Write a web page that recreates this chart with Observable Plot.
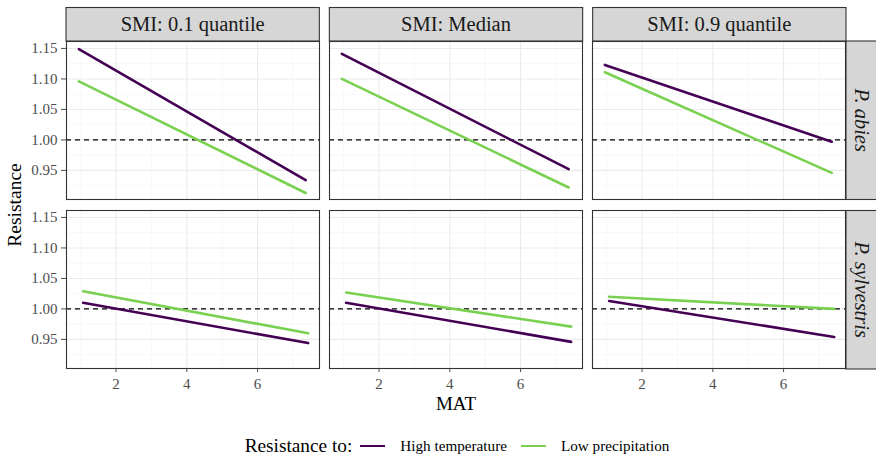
<!DOCTYPE html>
<html>
<head>
<meta charset="utf-8">
<script src="https://cdn.jsdelivr.net/npm/d3@7"></script>
<script src="https://cdn.jsdelivr.net/npm/@observablehq/plot@0.6"></script>
<style>
  body { margin: 0; background: #fff; font-family: 'Liberation Serif', serif; }
  #chart svg { display: block; }
  #chart svg text { font-family: 'Liberation Serif', serif !important; }
  #legend { width: 876px; height: 52px; box-sizing: border-box; padding-left: 38px; display: flex; justify-content: center; align-items: center; color: #000; font-family: 'Liberation Serif', serif; }
  #legend .title { font-size: 19.3px; margin-right: 8px; }
  #legend .key { width: 25px; height: 2.8px; margin-right: 15px; }
  #legend .lab { font-size: 15.2px; margin-right: 14px; }
  #legend .lab:last-child { margin-right: 0; }
</style>
</head>
<body>
<div id="chart"></div>
<div id="legend"></div>
<script>
// ---- data ----
const smiLevels = ["SMI: 0.1 quantile", "SMI: Median", "SMI: 0.9 quantile"];
const speciesNames = ["P. abies", "P. sylvestris"];
const stressTypes = ["High temperature", "Low precipitation"];
const stressColors = ["#440154", "#7AD151"];

// MAT range of the predictions (start, end) for each species
const matAbies = [0.95, 7.36];
const matSylvestris = [1.07, 7.43];

// Resistance at MAT start / end, one pair per SMI level
const abiesHighTemp = [[1.149, 0.934], [1.141, 0.952], [1.123, 0.997]];
const abiesLowPrec = [[1.096, 0.913], [1.100, 0.922], [1.111, 0.946]];
const sylvHighTemp = [[1.010, 0.944], [1.010, 0.946], [1.013, 0.954]];
const sylvLowPrec = [[1.029, 0.960], [1.027, 0.971], [1.020, 1.000]];

// axis ticks / grid
const xTicks = [2, 4, 6];
const xMinor = [1, 3, 5, 7];
const yTicks = [0.95, 1.00, 1.05, 1.10, 1.15];
const yMinor = [0.925, 0.975, 1.025, 1.075, 1.125];
const refLine = [1];

const FONT = "Liberation Serif";

// ---- build table ----
const rows = [];
function addSeries(sp, mat, type, vals) {
  vals.forEach((pair, i) => {
    pair.forEach((v, j) => rows.push({species: sp, smi: smiLevels[i], type, mat: mat[j], value: v}));
  });
}
addSeries(speciesNames[0], matAbies, stressTypes[0], abiesHighTemp);
addSeries(speciesNames[0], matAbies, stressTypes[1], abiesLowPrec);
addSeries(speciesNames[1], matSylvestris, stressTypes[0], sylvHighTemp);
addSeries(speciesNames[1], matSylvestris, stressTypes[1], sylvLowPrec);

const W = 876, H = 420;
const plot = Plot.plot({
  width: W, height: H,
  marginTop: 41, marginRight: 30, marginBottom: 51, marginLeft: 66,
  facet: {marginTop: 0, marginRight: 0, marginBottom: 0, marginLeft: 0},
  fx: {domain: smiLevels, axis: null, label: null, paddingInner: 0.038, paddingOuter: 0},
  fy: {domain: speciesNames, axis: null, label: null, paddingInner: 0.065, paddingOuter: 0},
  x: {domain: [0.6, 7.75], ticks: xTicks, tickSize: 4, tickPadding: 6, label: null},
  y: {domain: [0.9023, 1.1614], ticks: yTicks, tickSize: 5, tickPadding: 4, tickFormat: d3.format(".2f"), label: null},
  color: {domain: stressTypes, range: stressColors},
  style: {fontFamily: "Liberation Serif", fontSize: "15px", color: "#4D4D4D", background: "white", overflow: "visible"},
  marks: [
    Plot.ruleY(yMinor, {stroke: "#F3F3F3", strokeWidth: 0.6}),
    Plot.ruleX(xMinor, {stroke: "#F3F3F3", strokeWidth: 0.6}),
    Plot.ruleY(yTicks, {stroke: "#EBEBEB", strokeWidth: 1.1}),
    Plot.ruleX(xTicks, {stroke: "#EBEBEB", strokeWidth: 1.1}),
    Plot.ruleY(refLine, {stroke: "#000", strokeWidth: 1.1, strokeDasharray: "5,4"}),
    Plot.line(rows, {x: "mat", y: "value", stroke: "type", fx: "smi", fy: "species", strokeWidth: 2.6}),
    Plot.frame({stroke: "#333333", strokeWidth: 1.1})
  ]
});
document.getElementById("chart").appendChild(plot);
d3.select(plot).selectAll("text").attr("font-family", FONT).attr("font-size", 15);

// ---- strips and axis titles ----
const fxS = plot.scale("fx"), fyS = plot.scale("fy");
const bx = d3.scaleBand().domain(fxS.domain).range(fxS.range)
  .paddingInner(fxS.paddingInner ?? 0.038).paddingOuter(fxS.paddingOuter ?? 0).align(fxS.align ?? 0.5);
const by = d3.scaleBand().domain(fyS.domain).range(fyS.range)
  .paddingInner(fyS.paddingInner ?? 0.065).paddingOuter(fyS.paddingOuter ?? 0).align(fyS.align ?? 0.5);

const svg = d3.select(plot);
const g = svg.append("g").attr("font-family", FONT);
const top0 = 7.5, topY = fyS.range[0];
smiLevels.forEach(k => {
  g.append("rect").attr("x", bx(k)).attr("y", top0).attr("width", bx.bandwidth()).attr("height", topY - top0)
    .attr("fill", "#D6D6D6").attr("stroke", "#333333").attr("stroke-width", 1.1);
  g.append("text").attr("x", bx(k) + bx.bandwidth() / 2).attr("y", (top0 + topY) / 2)
    .attr("text-anchor", "middle").attr("dominant-baseline", "central")
    .attr("font-family", FONT).attr("font-size", 20.5).attr("fill", "#1A1A1A").text(k);
});
const rightX = fxS.range[1];
speciesNames.forEach(k => {
  g.append("rect").attr("x", rightX).attr("y", by(k)).attr("width", 34).attr("height", by.bandwidth())
    .attr("fill", "#D6D6D6").attr("stroke", "#333333").attr("stroke-width", 1.1);
  const cx = rightX + 15.5, cy = by(k) + by.bandwidth() / 2;
  g.append("text").attr("transform", `translate(${cx},${cy}) rotate(90)`)
    .attr("text-anchor", "middle").attr("dominant-baseline", "central")
    .attr("font-family", FONT).attr("font-size", 20.5).attr("font-style", "italic").attr("fill", "#1A1A1A").text(k);
});
const midX = (fxS.range[0] + fxS.range[1]) / 2;
const midY = (fyS.range[0] + fyS.range[1]) / 2;
g.append("text").attr("x", midX).attr("y", 410).attr("text-anchor", "middle")
  .attr("font-family", FONT).attr("font-size", 19).attr("fill", "#000").text("MAT");
g.append("text").attr("transform", `translate(14,${midY}) rotate(-90)`).attr("text-anchor", "middle")
  .attr("dominant-baseline", "central").attr("font-family", FONT).attr("font-size", 19.5).attr("fill", "#000").text("Resistance");

// ---- legend ----
const leg = d3.select("#legend");
leg.append("span").attr("class", "title").text("Resistance to:");
stressTypes.forEach((t, i) => {
  leg.append("span").attr("class", "key").style("background", stressColors[i]);
  leg.append("span").attr("class", "lab").text(t);
});
</script>
</body>
</html>
